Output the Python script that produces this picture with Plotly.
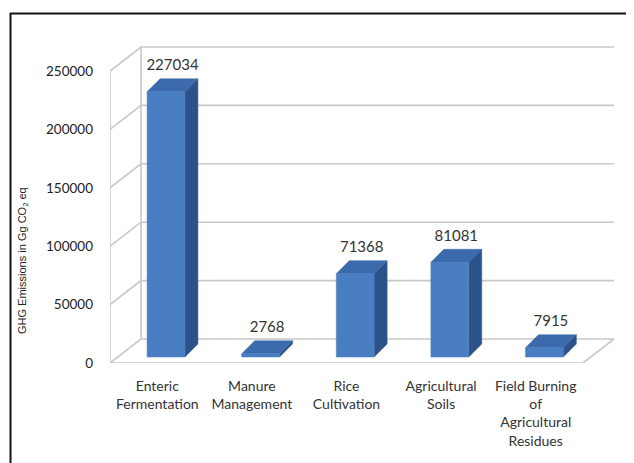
import plotly.graph_objects as go

# ---- data ----
categories = ["Enteric<br>Fermentation", "Manure<br>Management", "Rice<br>Cultivation",
              "Agricultural<br>Soils", "Field Burning<br>of<br>Agricultural<br>Residues"]
values = [227034, 2768, 71368, 81081, 7915]
tick_values = [0, 50000, 100000, 150000, 200000, 250000]
tick_labels = ["0", "50000", "100000", "150000", "200000", "250000"]

# ---- geometry ----
PAGE = 8  # browser body margin
W, H = 634 - PAGE, 463 - PAGE
ML, MR, MT, MB = 110 - PAGE, 17, 40 - PAGE, 100
px_per_cat = 94.6
px_per_val = 292 / 250000.0
plot_w = W - ML - MR
plot_h = H - MT - MB
x_range = [-0.5, -0.5 + plot_w / px_per_cat]
y_range = [0, plot_h / px_per_val]


def px_to_paper_x(px):
    return (px - PAGE - ML) / plot_w


def px_to_paper_y(py):
    return 1 - (py - PAGE - MT) / plot_h


# wall depth (oblique projection)
wall_dx = 31 / px_per_cat
wall_dy = 24 / px_per_val
# bar front-face offset and bar depth
bar_off_x = 8.7 / px_per_cat
bar_off_y = 6 / px_per_val
bar_dx = 13 / px_per_cat
bar_dy = 13 / px_per_val
bar_w = 0.40

n = len(categories)
x0, x1 = -0.5, n - 0.5

fig = go.Figure()

# walls / gridlines
gx, gy = [], []
for v in tick_values:
    gx += [x0, x0 + wall_dx, x1 + wall_dx, None]
    gy += [v, v + wall_dy, v + wall_dy, None]
gx += [x0, x1, x1 + wall_dx, None]
gy += [0, 0, wall_dy, None]
gx += [x0, x0, None, x0 + wall_dx, x0 + wall_dx, None]
gy += [0, tick_values[-1], None, wall_dy, tick_values[-1] + wall_dy, None]
fig.add_trace(go.Scatter(x=gx, y=gy, mode="lines", cliponaxis=False,
                         line=dict(color="#c8c8c8", width=1.6),
                         hoverinfo="skip", showlegend=False))

# floor category tick marks
tx, ty = [], []
for k in range(n + 1):
    xb = x0 + k
    tx += [xb, xb, None]
    ty += [0, -5 / px_per_val, None]
fig.add_trace(go.Scatter(x=tx, y=ty, mode="lines", cliponaxis=False,
                         line=dict(color="#c8c8c8", width=1),
                         hoverinfo="skip", showlegend=False))

front_col = "#4a7ec2"
top_col = "#3b6aad"
side_col = "#2c5289"

label_x, label_y, label_t = [], [], []
for i, v in enumerate(values):
    xl = i + bar_off_x - bar_w / 2
    xr = i + bar_off_x + bar_w / 2
    yb = bar_off_y
    yt = bar_off_y + v
    fig.add_trace(go.Scatter(
        x=[xr, xr + bar_dx, xr + bar_dx, xr, xr],
        y=[yb, yb + bar_dy, yt + bar_dy, yt, yb],
        fill="toself", fillcolor=side_col, mode="lines",
        line=dict(color=side_col, width=0.5), hoverinfo="skip", showlegend=False))
    fig.add_trace(go.Scatter(
        x=[xl, xr, xr + bar_dx, xl + bar_dx, xl],
        y=[yt, yt, yt + bar_dy, yt + bar_dy, yt],
        fill="toself", fillcolor=top_col, mode="lines",
        line=dict(color=top_col, width=0.5), hoverinfo="skip", showlegend=False))
    fig.add_trace(go.Scatter(
        x=[xl, xr, xr, xl, xl],
        y=[yb, yb, yt, yt, yb],
        fill="toself", fillcolor=front_col, mode="lines",
        line=dict(color=front_col, width=0.5), hoverinfo="skip", showlegend=False))
    label_x.append(i + bar_off_x + bar_dx / 2)
    label_y.append(yt + bar_dy + 5 / px_per_val)
    label_t.append(str(v))

fig.add_trace(go.Scatter(x=label_x, y=label_y, text=label_t, mode="text",
                         textposition="top center", cliponaxis=False,
                         textfont=dict(family="Lato", size=15, color="#333333"),
                         hoverinfo="skip", showlegend=False))

fig.update_layout(
    width=W, height=H,
    margin=dict(l=ML, r=MR, t=MT, b=MB, autoexpand=False),
    paper_bgcolor="white", plot_bgcolor="white",
    showlegend=False,
    xaxis=dict(range=x_range, tickmode="array", tickvals=list(range(n)),
               ticktext=categories, showgrid=False, zeroline=False, showline=False,
               ticks="", ticklabelstandoff=13, automargin=False,
               tickfont=dict(family="Lato", size=14, color="#333333"), fixedrange=True),
    yaxis=dict(range=y_range, tickmode="array", tickvals=tick_values,
               ticktext=tick_labels, showgrid=False, zeroline=False, showline=False,
               ticks="", ticklabelstandoff=16, automargin=False,
               tickfont=dict(family="Lato", size=13.5, color="#222222"), fixedrange=True),
    annotations=[dict(text="GHG Emissions in Gg CO<sub>2</sub> eq",
                      xref="paper", yref="paper",
                      x=px_to_paper_x(23), y=px_to_paper_y(261),
                      xanchor="center", yanchor="middle",
                      textangle=-90, showarrow=False,
                      font=dict(family="Liberation Sans, Arial", size=11, color="#222222"))],
    shapes=[dict(type="line", xref="paper", yref="paper",
                 x0=px_to_paper_x(10.5), x1=px_to_paper_x(10.5),
                 y0=px_to_paper_y(13), y1=px_to_paper_y(470),
                 line=dict(color="#111111", width=2)),
            dict(type="line", xref="paper", yref="paper",
                 x0=px_to_paper_x(10), x1=px_to_paper_x(640),
                 y0=px_to_paper_y(13.5), y1=px_to_paper_y(13.5),
                 line=dict(color="#111111", width=2))],
)

fig.write_html("out.html")
